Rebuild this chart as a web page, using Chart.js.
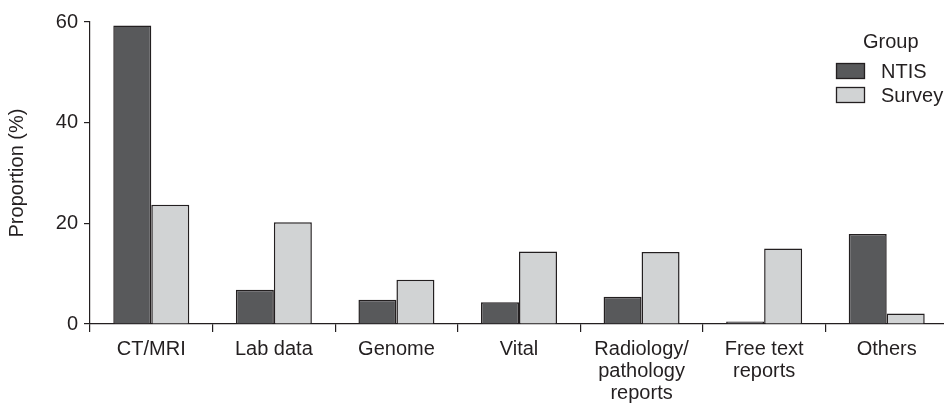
<!DOCTYPE html>
<html>
<head>
<meta charset="utf-8">
<script src="https://cdn.jsdelivr.net/npm/chart.js@4"></script>
<style>
  html, body { margin: 0; padding: 0; background: #fff; overflow: hidden; }
  #wrap { width: 948px; height: 405px; }
</style>
</head>
<body>
<div id="wrap"><canvas id="chart" width="948" height="405"></canvas></div>
<script>
// categories and values (%)
const categories = ['CT/MRI', 'Lab data', 'Genome', 'Vital', ['Radiology/', 'pathology', 'reports'], ['Free text', 'reports'], 'Others'];
const ntis = [59.3, 6.8, 4.8, 4.3, 5.4, 0.5, 17.9];
const survey = [23.7, 20.2, 8.8, 14.4, 14.3, 15.0, 2.1];
const yTicks = [0, 20, 40, 60];
const legendTitle = 'Group';

const ink = '#231f20';
const font = 'Liberation Sans, Arial, Helvetica, sans-serif';

// legend drawn inside plot, top right
const groupLegend = {
    id: 'groupLegend',
    afterDraw(chart) {
        const ctx = chart.ctx;
        ctx.save();
        ctx.font = '20px ' + font;
        ctx.fillStyle = ink;
        ctx.textBaseline = 'middle';
        ctx.textAlign = 'left';
        ctx.fillText(legendTitle, 863, 42);
        chart.data.datasets.forEach((ds, i) => {
            const y = 63 + i * 24;
            ctx.fillStyle = ds.backgroundColor;
            ctx.fillRect(836, y, 29, 16);
            ctx.strokeStyle = ink;
            ctx.lineWidth = 1.3;
            ctx.strokeRect(836.5, y + 0.5, 28, 15);
            ctx.fillStyle = ink;
            ctx.fillText(ds.label, 881, y + 9);
        });
        ctx.restore();
    }
};

new Chart(document.getElementById('chart'), {
    type: 'bar',
    data: {
        labels: categories,
        datasets: [
            { label: 'NTIS', data: ntis, backgroundColor: '#58595b', borderColor: ink, borderWidth: 1.5 },
            { label: 'Survey', data: survey, backgroundColor: '#d1d3d4', borderColor: ink, borderWidth: 1.5 }
        ]
    },
    options: {
        responsive: false,
        animation: false,
        layout: { padding: { top: 22, bottom: 0, left: 0, right: 0 } },
        datasets: { bar: { barPercentage: 1, categoryPercentage: 0.62 } },
        plugins: { legend: { display: false }, tooltip: { enabled: false } },
        scales: {
            x: {
                offset: true,
                afterFit: (axis) => { axis.height = 81; },
                grid: { offset: true, drawOnChartArea: false, color: ink, lineWidth: 1.2, tickLength: 8 },
                border: { color: ink, width: 1.2 },
                ticks: { color: ink, font: { family: font, size: 20, lineHeight: 1.1 }, padding: 6, maxRotation: 0, autoSkip: false }
            },
            y: {
                min: 0,
                max: 60,
                afterBuildTicks: (axis) => { axis.ticks = yTicks.map(v => ({ value: v })); },
                afterFit: (axis) => { axis.width = 90; },
                grid: { drawOnChartArea: false, color: ink, lineWidth: 1.2, tickLength: 6 },
                border: { color: ink, width: 1.2 },
                ticks: { color: ink, font: { family: font, size: 20 }, padding: 6 },
                title: { display: true, text: 'Proportion (%)', color: ink, font: { family: font, size: 20 }, padding: { top: 5, bottom: 0 } }
            }
        }
    },
    plugins: [groupLegend]
});
</script>
</body>
</html>
